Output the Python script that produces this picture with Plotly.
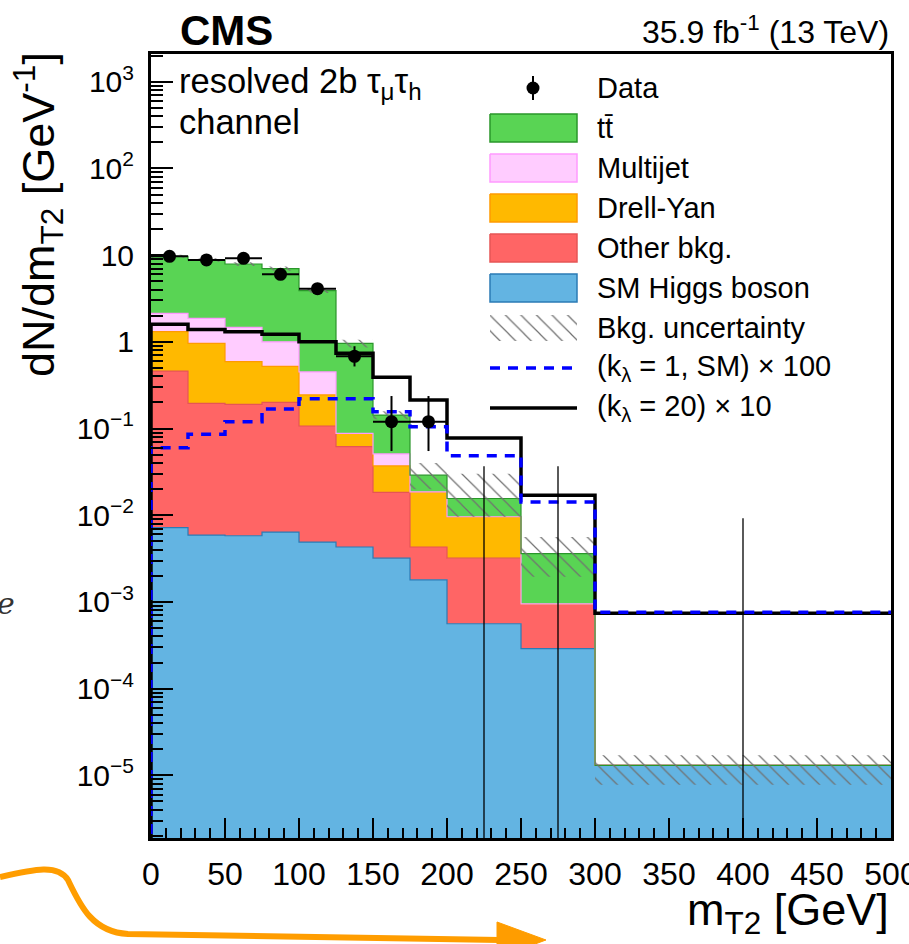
import plotly.graph_objects as go

# ---------------- figure geometry ----------------
W, H = 909, 944
ML, MR, MT, MB = 151, 18, 54, 106
PW, PH = W - ML - MR, H - MT - MB
FONT = "Liberation Sans, Arial, Helvetica, sans-serif"


def px(x):
    return (x - ML) / PW


def py(y):
    return (H - MB - y) / PH


# ---------------- data (dN/dmT2 per GeV) ----------------
edges = [0, 25, 50, 75, 100, 125, 150, 175, 200, 250, 300, 500]
higgs = [7.2e-3, 5.9e-3, 5.8e-3, 6.4e-3, 4.9e-3, 4.3e-3, 3.2e-3, 1.8e-3, 5.6e-4, 2.9e-4, 1.3e-5]
other = [0.453, 0.189, 0.184, 0.194, 0.102, 0.0577, 0.0151, 0.0025, 0.00264, 0.00066, 0.0]
drellyan = [0.85, 0.765, 0.40, 0.32, 0.138, 0.026, 0.0187, 0.0143, 0.0064, 0.0, 0.0]
multijet = [0.82, 0.90, 0.88, 0.48, 0.205, 0.0, 0.014, 0.0, 0.0, 0.0, 0.0]
ttbar = [7.57, 6.94, 6.43, 6.0, 3.45, 0.872, 0.092, 0.0104, 0.006, 0.00265, 0.0]
bkg_lo = [9.3, 8.4, 7.5, 6.6, 3.65, 0.86, 0.128, 0.020, 0.0096, 1.95e-3, 7.8e-6]
bkg_hi = [10.1, 9.2, 8.3, 7.4, 4.15, 1.06, 0.158, 0.040, 0.030, 5.6e-3, 1.7e-5]
sig_sm_x100 = [0.06, 0.086, 0.12, 0.168, 0.22, 0.22, 0.156, 0.105, 0.0485, 0.0142, 7.6e-4]
sig_k20_x10 = [1.6, 1.39, 1.31, 1.22, 1.0, 0.74, 0.39, 0.213, 0.078, 0.017, 7.4e-4]
data_val = [9.7, 8.8, 9.2, 6.0, 4.1, 0.68, 0.12, 0.12, 0.0, 0.0, 0.0]
data_err_up = [0.62, 0.59, 0.61, 0.49, 0.40, 0.21, 0.117, 0.117, 0.0368, 0.0368, 0.0092]
data_err_dn = [0.62, 0.59, 0.61, 0.49, 0.40, 0.16, 0.065, 0.065, 0.0, 0.0, 0.0]

y_major = [1e3, 1e2, 1e1, 1, 1e-1, 1e-2, 1e-3, 1e-4, 1e-5]
y_major_text = ["10<sup>3</sup>", "10<sup>2</sup>", "10", "1", "10<sup>\u22121</sup>",
                "10<sup>\u22122</sup>", "10<sup>\u22123</sup>", "10<sup>\u22124</sup>",
                "10<sup>\u22125</sup>"]
x_major = [0, 50, 100, 150, 200, 250, 300, 350, 400, 450, 500]

nb = len(edges) - 1
centers = [(a + b) / 2 for a, b in zip(edges[:-1], edges[1:])]
halfw = [(b - a) / 2 for a, b in zip(edges[:-1], edges[1:])]
TINY = 1e-9


def steps(v):
    return list(v) + [v[-1]]


fig = go.Figure()

# ---------------- stacked backgrounds ----------------
fig.add_trace(go.Scatter(x=edges, y=[TINY] * len(edges), mode="lines",
                         line=dict(width=0), showlegend=False, hoverinfo="skip"))
components = [
    (higgs, "#63b4e2", "#2b7bb5"),
    (other, "#ff6565", "#e65555"),
    (drellyan, "#ffb900", "#ff9a00"),
    (multijet, "#ffccff", "#ff99ff"),
    (ttbar, "#59d454", "#2a962a"),
]
cum = [0.0] * nb
for vals, fc, lc in components:
    cum = [c + v for c, v in zip(cum, vals)]
    fig.add_trace(go.Scatter(x=edges, y=steps(cum), mode="lines", line_shape="hv",
                             line=dict(color=lc, width=1.2), fill="tonexty",
                             fillcolor=fc, showlegend=False, hoverinfo="skip"))

# ---------------- background uncertainty band ----------------
bx, by = [], []
for i in range(nb):
    bx += [edges[i], edges[i + 1]]
    by += [bkg_hi[i], bkg_hi[i]]
for i in reversed(range(nb)):
    bx += [edges[i + 1], edges[i]]
    by += [bkg_lo[i], bkg_lo[i]]
HATCH = dict(shape="\\", fgcolor="#707070", bgcolor="rgba(0,0,0,0)", size=11,
             solidity=0.11, fillmode="replace")
fig.add_trace(go.Scatter(x=bx, y=by, mode="lines", line=dict(width=0), fill="toself",
                         fillcolor="rgba(0,0,0,0)", fillpattern=HATCH,
                         showlegend=False, hoverinfo="skip"))

# ---------------- signals ----------------
fig.add_trace(go.Scatter(x=[edges[0]] + edges, y=[TINY] + steps(sig_k20_x10), mode="lines",
                         line_shape="hv", line=dict(color="black", width=3.5),
                         showlegend=False, hoverinfo="skip"))
fig.add_trace(go.Scatter(x=[edges[0]] + edges, y=[TINY] + steps(sig_sm_x100), mode="lines",
                         line_shape="hv", line=dict(color="#0000ff", width=3.5, dash="10px,8px"),
                         showlegend=False, hoverinfo="skip"))

# ---------------- data ----------------
nz = [i for i in range(nb) if data_val[i] > 0]
z = [i for i in range(nb) if data_val[i] <= 0]
fig.add_trace(go.Scatter(
    x=[centers[i] for i in nz], y=[data_val[i] for i in nz], mode="markers",
    marker=dict(color="black", size=13),
    error_y=dict(type="data", symmetric=False, array=[data_err_up[i] for i in nz],
                 arrayminus=[data_err_dn[i] for i in nz], color="black", thickness=2, width=0),
    error_x=dict(type="data", array=[halfw[i] for i in nz], color="black", thickness=2, width=0),
    showlegend=False, hoverinfo="skip"))
zx, zy = [], []
for i in z:
    zx += [centers[i], centers[i], None]
    zy += [TINY, data_err_up[i], None]
fig.add_trace(go.Scatter(x=zx, y=zy, mode="lines", line=dict(color="black", width=1.3),
                         showlegend=False, hoverinfo="skip"))

# ---------------- hand-made legend (overlay pixel axes) ----------------
LX0, LX1, LTX = 490, 577, 595
rows = [88, 128, 168, 208, 248, 288, 328, 368, 408]
legend_labels = ["Data", "tt\u0304", "Multijet", "Drell-Yan", "Other bkg.", "SM Higgs boson",
                 "Bkg. uncertainty", "(k<sub>\u03bb</sub> = 1, SM) \u00d7 100",
                 "(k<sub>\u03bb</sub> = 20) \u00d7 10"]
box_colors = [("#59d454", "#2a962a"), ("#ffccff", "#ff99ff"), ("#ffb900", "#ff9a00"),
              ("#ff6565", "#e65555"), ("#63b4e2", "#2b7bb5")]
LEG = dict(xaxis="x2", yaxis="y2", showlegend=False, hoverinfo="skip")

fig.add_trace(go.Scatter(x=[533, 533], y=[rows[0] - 12, rows[0] + 12], mode="lines",
                         line=dict(color="black", width=2), **LEG))
fig.add_trace(go.Scatter(x=[533], y=[rows[0]], mode="markers",
                         marker=dict(color="black", size=13), **LEG))
for k, (fc, lc) in enumerate(box_colors):
    yc = rows[k + 1]
    fig.add_trace(go.Scatter(x=[LX0, LX1, LX1, LX0, LX0],
                             y=[yc - 14, yc - 14, yc + 14, yc + 14, yc - 14],
                             mode="lines", fill="toself", fillcolor=fc,
                             line=dict(color=lc, width=1.5), **LEG))
yc = rows[6]
fig.add_trace(go.Scatter(x=[LX0, LX1, LX1, LX0, LX0],
                         y=[yc - 13, yc - 13, yc + 13, yc + 13, yc - 13],
                         mode="lines", fill="toself", fillcolor="rgba(0,0,0,0)",
                         fillpattern=HATCH, line=dict(width=0), **LEG))
fig.add_trace(go.Scatter(x=[LX0, 572], y=[rows[7], rows[7]], mode="lines",
                         line=dict(color="#0000ff", width=3.5, dash="10px,8px"), **LEG))
fig.add_trace(go.Scatter(x=[LX0, LX1], y=[rows[8], rows[8]], mode="lines",
                         line=dict(color="black", width=3.5), **LEG))

annotations = []
for lab, yc in zip(legend_labels, rows):
    annotations.append(dict(text=lab, x=px(LTX), y=py(yc), xref="paper", yref="paper",
                            xanchor="left", yanchor="middle", showarrow=False,
                            font=dict(size=29, color="black", family=FONT)))

# ---------------- texts ----------------
annotations += [
    dict(text="<b>CMS</b>", x=px(178), y=py(30), xref="paper", yref="paper",
         xanchor="left", yanchor="middle", showarrow=False,
         font=dict(size=42, color="black", family=FONT)),
    dict(text="35.9 fb<sup>-1</sup> (13 TeV)", x=px(891), y=py(30), xref="paper", yref="paper",
         xanchor="right", yanchor="middle", showarrow=False,
         font=dict(size=32, color="black", family=FONT)),
    dict(text="resolved 2b \u03c4<sub>\u03bc</sub>\u03c4<sub>h</sub>", x=px(177), y=py(84),
         xref="paper", yref="paper", xanchor="left", yanchor="middle", showarrow=False,
         font=dict(size=34.5, color="black", family=FONT)),
    dict(text="channel", x=px(177), y=py(122), xref="paper", yref="paper",
         xanchor="left", yanchor="middle", showarrow=False,
         font=dict(size=34.5, color="black", family=FONT)),
    dict(text="m<sub>T2</sub> [GeV]", x=px(891), y=py(912), xref="paper", yref="paper",
         xanchor="right", yanchor="middle", showarrow=False,
         font=dict(size=45, color="black", family=FONT)),
    dict(text="dN/dm<sub>T2</sub> [GeV<sup>-1</sup>]", x=px(38), y=py(215), xref="paper",
         yref="paper", xanchor="center", yanchor="middle", textangle=-90, showarrow=False,
         font=dict(size=45, color="black", family=FONT)),
    dict(text="<i>e</i>", x=px(6), y=py(604), xref="paper", yref="paper",
         xanchor="center", yanchor="middle", showarrow=False,
         font=dict(size=30, color="#333333", family="DejaVu Serif")),
]

# orange arrow (page decoration)
pts = [("M", [(0, 877)]), ("C", [(35, 869), (58, 864), (68, 880)]),
       ("C", [(80, 905), (92, 932), (128, 934)]), ("L", [(500, 940)])]
path = " ".join(cmd + " " + " ".join(f"{px(a):.5f},{py(b):.5f}" for a, b in p) for cmd, p in pts)
head = [(497, 922), (546, 940), (497, 958)]
hpath = "M " + " L ".join(f"{px(a):.5f},{py(b):.5f}" for a, b in head) + " Z"
shapes = [
    dict(type="path", path=path, xref="paper", yref="paper",
         line=dict(color="#ff9d00", width=6)),
    dict(type="path", path=hpath, xref="paper", yref="paper",
         line=dict(color="#ff9d00", width=1), fillcolor="#ff9d00"),
]

minor_y = [m * 10.0 ** d for d in range(-7, 4) for m in range(2, 10)]

fig.update_layout(
    width=W, height=H, autosize=False,
    margin=dict(l=ML, r=MR, t=MT, b=MB, pad=0),
    paper_bgcolor="white", plot_bgcolor="white",
    font=dict(family=FONT, color="black"),
    showlegend=False,
    annotations=annotations, shapes=shapes,
    xaxis=dict(range=[0, 500], showline=True, linewidth=3, linecolor="black", mirror=True,
               automargin=False,
               ticks="inside", ticklen=20, tickwidth=1.5, tickcolor="black",
               tickmode="array", tickvals=x_major, ticktext=[str(v) for v in x_major],
               tickfont=dict(size=32, family=FONT), ticklabelstandoff=6,
               ticklabeloverflow="allow",
               minor=dict(ticks="inside", ticklen=10, tickwidth=1.5, tickcolor="black", dtick=10),
               showgrid=False, zeroline=False),
    yaxis=dict(type="log", range=[-5.723, 3.32], showline=True, linewidth=3, linecolor="black",
               mirror=True, automargin=False,
               ticks="inside", ticklen=22, tickwidth=1.5, tickcolor="black",
               tickmode="array", tickvals=y_major, ticktext=y_major_text,
               tickfont=dict(size=30, family=FONT), ticklabelstandoff=8,
               minor=dict(ticks="inside", ticklen=12, tickwidth=1.5, tickcolor="black",
                          tickmode="array", tickvals=minor_y),
               showgrid=False, zeroline=False),
    xaxis2=dict(overlaying="x", range=[ML, W - MR], visible=False, fixedrange=True,
                automargin=False),
    yaxis2=dict(overlaying="y", range=[H - MB, MT], visible=False, fixedrange=True,
                automargin=False),
)

fig.write_html("out.html", config={"displayModeBar": False},
               post_script="document.body.style.margin='0';document.body.style.overflow='hidden';")
